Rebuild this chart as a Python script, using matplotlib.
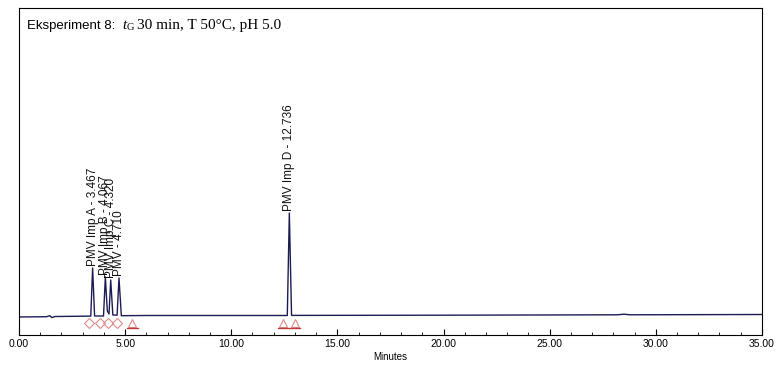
import matplotlib.pyplot as plt
from matplotlib.ticker import MultipleLocator, FormatStrFormatter

# chromatogram trace (minutes, signal above baseline)
trace_t = [0.0, 1.3, 1.45, 1.55, 1.7, 3.0, 3.38, 3.467, 3.56, 3.98, 4.067, 4.16, 4.24,
           4.32, 4.42, 4.62, 4.71, 4.82, 6.0, 12.64, 12.736, 12.84, 20.0, 28.2, 28.5,
           28.8, 35.0]
trace_y = [0.0, 0.3, 1.3, -0.6, 0.5, 0.8, 0.9, 49.0, 1.0, 1.0, 40.0, 6.0, 3.0,
           37.0, 2.0, 1.8, 39.0, 1.3, 1.5, 1.5, 104.0, 1.6, 1.8, 2.2, 2.8,
           2.2, 2.5]

peak_t = [3.467, 4.067, 4.320, 4.710, 12.736]
peak_h = [49.0, 40.0, 37.0, 39.0, 104.0]
peak_names = ["PMV Imp A", "PMV Imp B", "PMV Imp C", "PMV", "PMV Imp D"]

diamond_t = [3.30, 3.82, 4.20, 4.60]
triangle_t = [5.30, 12.45, 13.0]
base_lines = [(5.08, 5.60), (12.2, 13.24)]

fig = plt.figure(figsize=(7.77, 3.67), dpi=100)
ax = fig.add_axes([0.0245, 0.0872, 0.956, 0.891])

ax.plot(trace_t, trace_y, color='#1c1c55', lw=1.0)
ax.plot(diamond_t, [-6] * len(diamond_t), 'D', ms=5, mfc='none', mec='#e08a8a', mew=0.8)
ax.plot(triangle_t, [-6] * len(triangle_t), '^', ms=6, mfc='none', mec='#e08a8a', mew=0.8)
for x0, x1 in base_lines:
    ax.plot([x0, x1], [-11, -11], color='#c03a3a', lw=1.0)

# peak labels overlap in the original too
for t, h, name in zip(peak_t, peak_h, peak_names):
    ax.text(t, h + 2, "%s - %.3f" % (name, t), rotation=90, ha='center', va='bottom',
            fontsize=8.5, family='Liberation Sans', color='#111111')

ax.set_xlim(0, 35)
ax.set_ylim(-18, 309)
ax.xaxis.set_major_locator(MultipleLocator(5))
ax.xaxis.set_minor_locator(MultipleLocator(1))
ax.xaxis.set_major_formatter(FormatStrFormatter('%.2f'))
ax.tick_params(axis='x', which='major', direction='in', length=4, labelsize=7.5, pad=3)
ax.tick_params(axis='x', which='minor', direction='in', length=2)
for lab in ax.get_xticklabels():
    lab.set_family('Liberation Sans')
ax.set_yticks([])
ax.set_xlabel('Minutes', fontsize=7, family='Liberation Sans', labelpad=2)
for s in ax.spines.values():
    s.set_linewidth(0.8)

t1 = ax.text(0.011, 0.935, "Eksperiment 8:  ", transform=ax.transAxes, fontsize=9.5,
             family='Liberation Sans', va='baseline')
t2 = ax.annotate("t", xy=(1, 0), xycoords=t1, va='bottom', fontsize=11,
                 family='Liberation Serif', style='italic')
t3 = ax.annotate("G ", xy=(1, 0), xycoords=t2, va='bottom', fontsize=7.5,
                 family='Liberation Serif')
ax.annotate("30 min, T 50°C, pH 5.0", xy=(1, 0), xycoords=t3, va='bottom',
            fontsize=11, family='Liberation Serif')

fig.savefig('out.png', dpi=100)
